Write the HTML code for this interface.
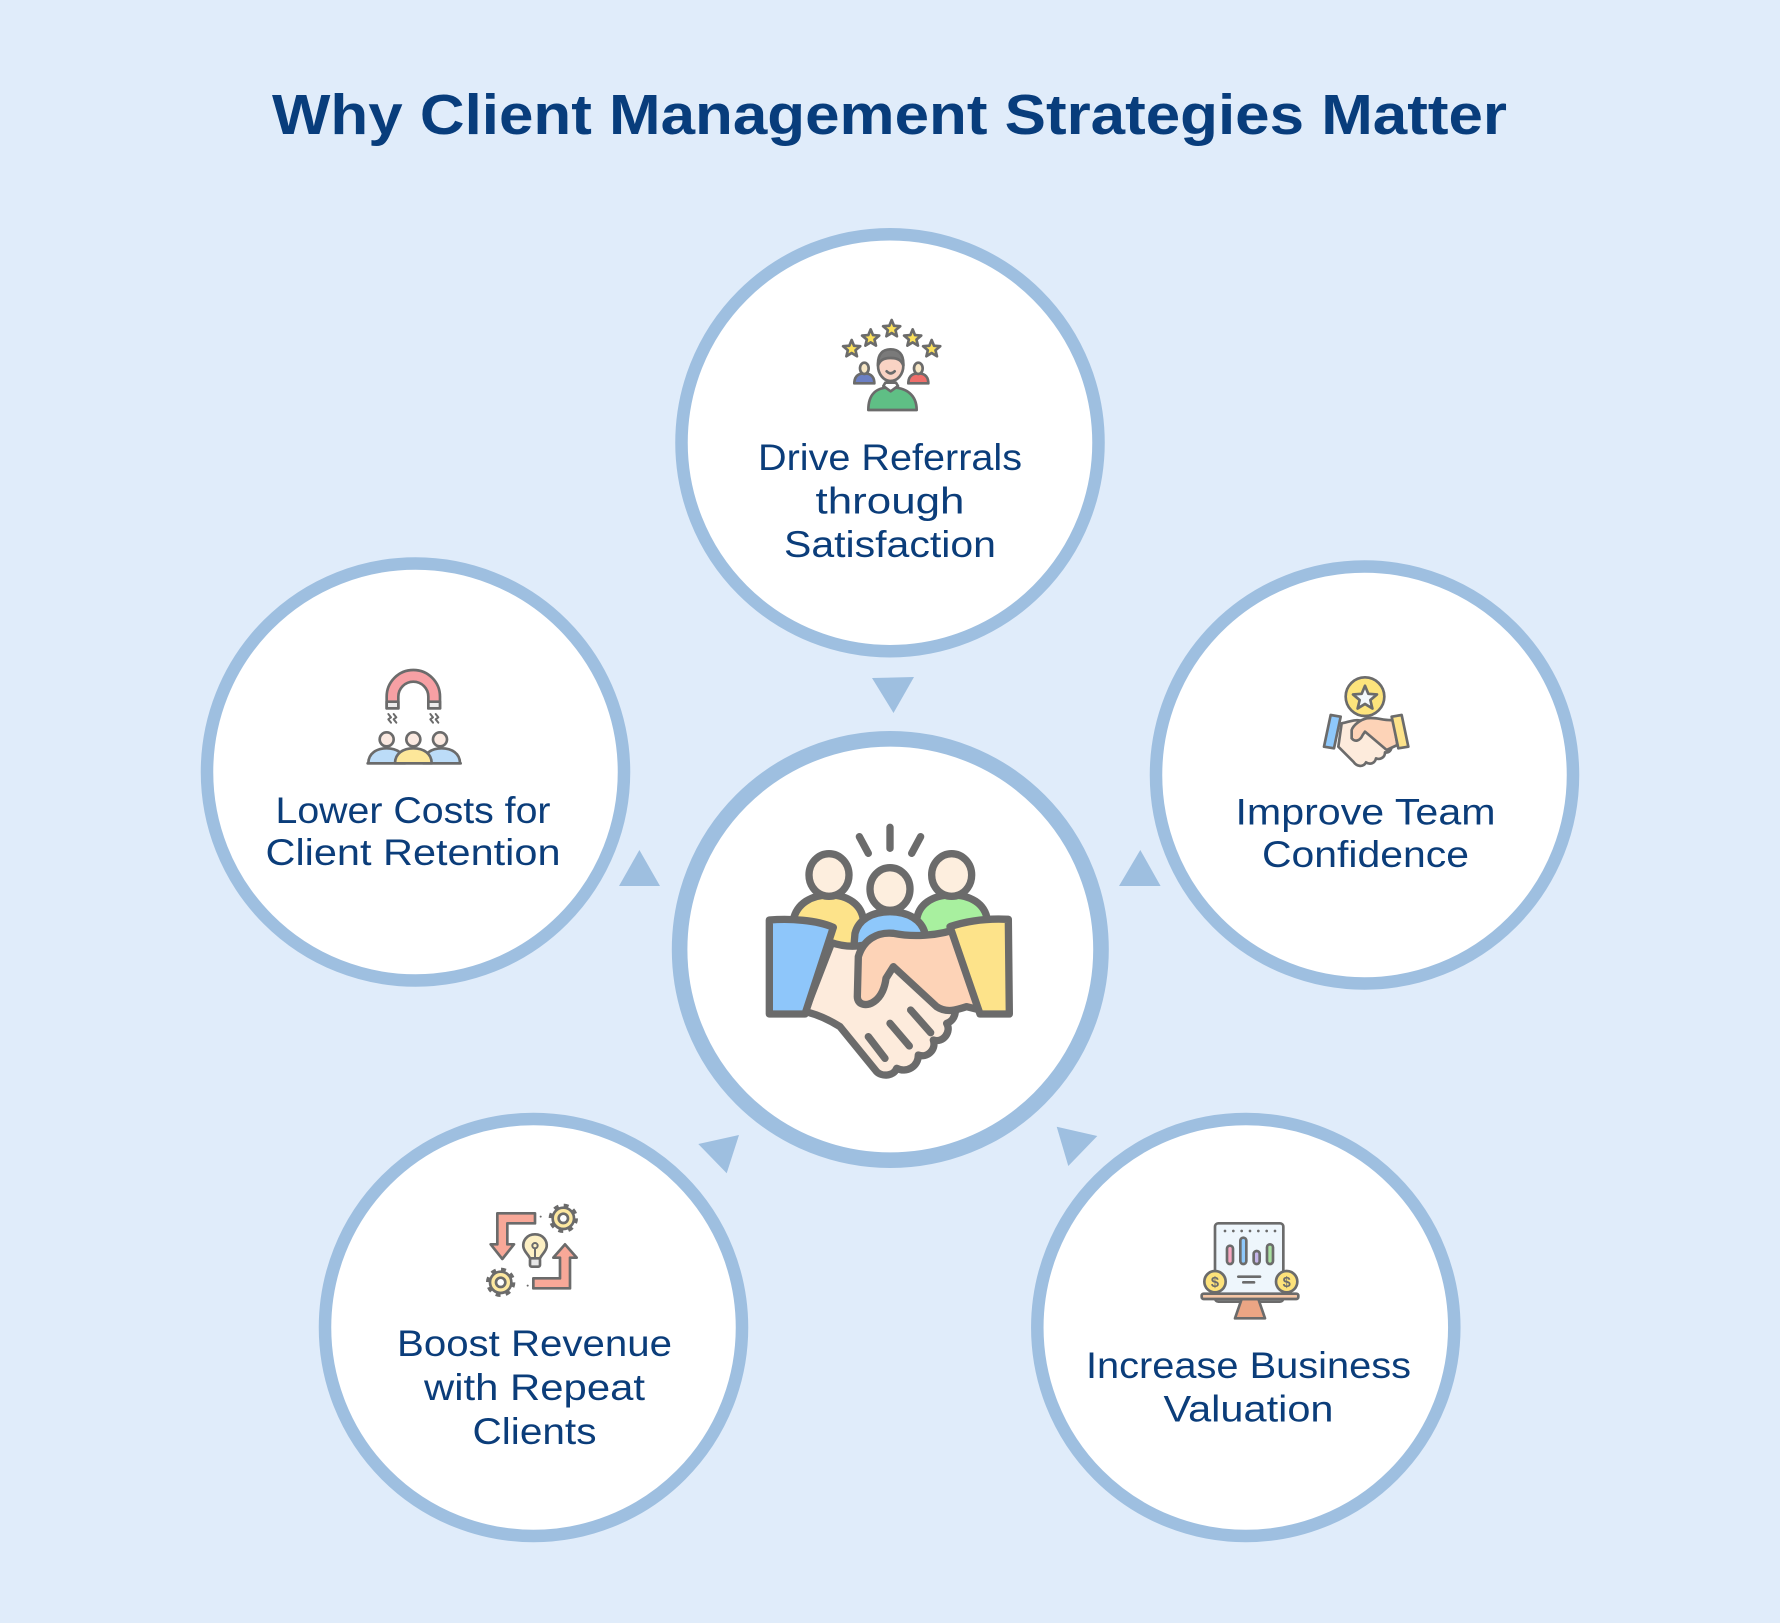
<!DOCTYPE html>
<html>
<head>
<meta charset="utf-8">
<style>
  html, body { margin: 0; padding: 0; background: #e0ecfa; }
  body { width: 1780px; height: 1623px; overflow: hidden; }
  svg { display: block; }
  .lbl { font-family: "Liberation Sans", "DejaVu Sans", sans-serif; font-size: 37px; fill: #0b3d7a; }
  .ttl { font-family: "Liberation Sans", "DejaVu Sans", sans-serif; font-size: 57px; font-weight: bold; fill: #083d7c; }
</style>
</head>
<body>
<svg width="1780" height="1623" viewBox="0 0 1780 1623" xmlns="http://www.w3.org/2000/svg">
  <defs>
    <polygon id="star" points="0,-27 7.05,-9.71 25.68,-8.34 11.41,3.71 15.87,21.84 0,12 -15.87,21.84 -11.41,3.71 -25.68,-8.34 -7.05,-9.71"/>
  </defs>
  <rect width="1780" height="1623" fill="#e0ecfa"/>

  <!-- Title -->
  <text class="ttl" x="889.5" y="134" text-anchor="middle" textLength="1235" lengthAdjust="spacingAndGlyphs">Why Client Management Strategies Matter</text>

  <!-- Circles -->
  <g fill="#ffffff" stroke="#9ebfe0">
    <circle cx="890" cy="442.7" r="208.5" stroke-width="12.5"/>
    <circle cx="415.5" cy="772" r="208.5" stroke-width="12.5"/>
    <circle cx="1364.5" cy="775" r="208.5" stroke-width="12.5"/>
    <circle cx="533.5" cy="1327.5" r="208.5" stroke-width="12.5"/>
    <circle cx="1245.8" cy="1327.5" r="208.5" stroke-width="12.5"/>
    <circle cx="890.3" cy="949.5" r="210.7" stroke-width="15.6"/>
  </g>

  <!-- Triangles -->
  <g fill="#9ebfe0">
    <polygon points="872,678 914,677 893.5,713"/>
    <polygon points="639.4,850 619,886 660,886"/>
    <polygon points="1140.3,850 1119,886 1160.6,886"/>
    <polygon points="698.3,1144 739,1135 726.7,1173.3"/>
    <polygon points="1056.7,1126.7 1097.3,1136 1068.3,1166"/>
  </g>

  <!-- Labels -->
  <text class="lbl" x="890" y="470" text-anchor="middle" textLength="264" lengthAdjust="spacingAndGlyphs">Drive Referrals</text>
  <text class="lbl" x="890" y="513.5" text-anchor="middle" textLength="149" lengthAdjust="spacingAndGlyphs">through</text>
  <text class="lbl" x="890" y="557" text-anchor="middle" textLength="212" lengthAdjust="spacingAndGlyphs">Satisfaction</text>

  <text class="lbl" x="413" y="823" text-anchor="middle" textLength="275" lengthAdjust="spacingAndGlyphs">Lower Costs for</text>
  <text class="lbl" x="413" y="865" text-anchor="middle" textLength="295" lengthAdjust="spacingAndGlyphs">Client Retention</text>

  <text class="lbl" x="1365.5" y="824.5" text-anchor="middle" textLength="260" lengthAdjust="spacingAndGlyphs">Improve Team</text>
  <text class="lbl" x="1365.5" y="867" text-anchor="middle" textLength="207" lengthAdjust="spacingAndGlyphs">Confidence</text>

  <text class="lbl" x="534.5" y="1356" text-anchor="middle" textLength="275" lengthAdjust="spacingAndGlyphs">Boost Revenue</text>
  <text class="lbl" x="534.5" y="1400" text-anchor="middle" textLength="221" lengthAdjust="spacingAndGlyphs">with Repeat</text>
  <text class="lbl" x="534.5" y="1444" text-anchor="middle" textLength="124" lengthAdjust="spacingAndGlyphs">Clients</text>

  <text class="lbl" x="1248.5" y="1378" text-anchor="middle" textLength="325" lengthAdjust="spacingAndGlyphs">Increase Business</text>
  <text class="lbl" x="1248.5" y="1421.5" text-anchor="middle" textLength="170" lengthAdjust="spacingAndGlyphs">Valuation</text>

  <!-- Center icon -->
  <g transform="translate(750,810) scale(0.33333)" stroke="#6b6b6b" stroke-width="22" stroke-linejoin="round" stroke-linecap="round">
    <line x1="420" y1="52" x2="420" y2="115" fill="none"/>
    <line x1="328" y1="80" x2="355" y2="130" fill="none"/>
    <line x1="512" y1="80" x2="485" y2="130" fill="none"/>
    <path d="M125,430 L130,330 C140,280 185,255 238,255 C295,255 335,285 340,330 L340,430 Z" fill="#fde38a"/>
    <path d="M500,430 L500,330 C505,285 545,255 605,255 C660,255 705,280 712,330 L712,430 Z" fill="#a8f09f"/>
    <ellipse cx="237" cy="195" rx="60" ry="64" fill="#fdeede"/>
    <ellipse cx="605" cy="195" rx="60" ry="64" fill="#fdeede"/>
    <path d="M310,430 L315,370 C325,330 365,305 420,305 C475,305 515,330 525,370 L525,430 Z" fill="#8ec8fb"/>
    <ellipse cx="420" cy="237" rx="60" ry="64" fill="#fdeede"/>
    <!-- light hand -->
    <path d="M245,398 C285,412 330,412 370,398 L470,400 L600,560 C625,590 620,630 590,640 C605,665 580,700 550,690 C560,720 530,745 505,735 C505,770 470,790 440,775 C430,800 395,800 380,785 L270,650 C230,625 200,612 165,605 Z" fill="#fdebdc"/>
    <line x1="355" y1="680" x2="405" y2="745"/>
    <line x1="420" y1="640" x2="478" y2="708"/>
    <line x1="482" y1="600" x2="542" y2="668"/>
    <!-- peach hand -->
    <path d="M640,350 C560,382 480,380 430,370 C380,365 340,390 325,440 L322,560 C322,585 350,590 372,575 C395,560 405,530 408,505 L430,470 L560,590 C590,610 620,600 650,590 L690,600 Z" fill="#fdd3b7"/>
    <!-- cuffs -->
    <path d="M58,330 C120,325 200,330 250,352 L165,612 L58,612 Z" fill="#8ec6fa"/>
    <path d="M600,350 C660,330 720,325 775,328 L778,612 L690,612 Z" fill="#fde38a"/>
  </g>

  <!-- Top icon: referrals -->
  <g transform="translate(820,300) scale(0.33333)" stroke="#6b6b6b" stroke-width="8" stroke-linejoin="round" stroke-linecap="round">
    <use href="#star" x="95" y="147" fill="#fbe05a"/>
    <use href="#star" x="152" y="115" fill="#fbe05a"/>
    <use href="#star" x="215" y="87" fill="#fbe05a"/>
    <use href="#star" x="278" y="115" fill="#fbe05a"/>
    <use href="#star" x="335" y="147" fill="#fbe05a"/>
    <path d="M103,250 C103,225 120,220 133,220 C146,220 163,225 163,250 Z" fill="#6b7fc4"/>
    <ellipse cx="133" cy="205" rx="13" ry="17" fill="#f7e6c4"/>
    <path d="M265,250 C265,225 282,220 295,220 C308,220 325,225 325,250 Z" fill="#ef6f6b"/>
    <ellipse cx="295" cy="205" rx="13" ry="17" fill="#f7e6c4"/>
    <path d="M145,330 C145,285 165,262 212,262 C259,262 290,285 290,330 Z" fill="#5fbf85"/>
    <path d="M190,258 L212,274 L234,258 L228,248 L196,248 Z" fill="#ffffff"/>
    <ellipse cx="212" cy="197" rx="38" ry="46" fill="#f9d3c4"/>
    <path d="M174,197 C172,160 190,148 212,148 C234,148 252,160 250,197 C245,182 235,174 212,174 C189,174 179,182 174,197 Z" fill="#7a7a7a"/>
    <path d="M200,214 Q212,226 224,214" fill="none"/>
  </g>

  <!-- Left icon: magnet & people -->
  <g transform="translate(355,660) scale(0.33333)" stroke="#6b6b6b" stroke-width="8" stroke-linejoin="round" stroke-linecap="round">
    <path d="M95,145 L95,110 A80,80 0 0 1 255,110 L255,145 L220,145 L220,110 A45,45 0 0 0 130,110 L130,145 Z" fill="#f7a0a4"/>
    <rect x="95" y="125" width="35" height="20" fill="#ececec"/>
    <rect x="220" y="125" width="35" height="20" fill="#ececec"/>
    <g fill="none" stroke-width="6">
      <polyline points="100,162 108,172 100,178 108,188"/>
      <polyline points="116,162 124,172 116,178 124,188"/>
      <polyline points="226,162 234,172 226,178 234,188"/>
      <polyline points="242,162 250,172 242,178 250,188"/>
    </g>
    <path d="M40,310 C40,280 65,265 95,265 C125,265 150,280 150,310 Z" fill="#bcdcf8"/>
    <path d="M205,310 C205,280 230,265 260,265 C290,265 315,280 315,310 Z" fill="#bcdcf8"/>
    <path d="M120,310 C120,280 145,265 175,265 C205,265 230,280 230,310 Z" fill="#fde79a"/>
    <circle cx="95" cy="238" r="21" fill="#fbe9e0"/>
    <circle cx="175" cy="238" r="21" fill="#fbe9e0"/>
    <circle cx="255" cy="238" r="21" fill="#fbe9e0"/>
    <line x1="38" y1="310" x2="317" y2="310"/>
  </g>

  <!-- Right icon: medal handshake -->
  <g transform="translate(1310,665) scale(0.33333)" stroke="#6b6b6b" stroke-width="8" stroke-linejoin="round" stroke-linecap="round">
    <circle cx="165" cy="95" r="58" fill="#fde47c"/>
    <use href="#star" transform="translate(165,100) scale(1.4)" fill="#f4f8fc" stroke-width="5.7"/>
    <path d="M95,175 C120,170 140,160 160,170 L240,235 C250,250 240,265 225,262 C225,278 210,285 198,280 C195,295 180,300 168,292 C160,308 140,305 130,290 L85,245 Z" fill="#fdebdc"/>
    <path d="M250,165 C220,168 200,155 170,160 C150,165 130,180 125,195 L125,220 C135,232 150,228 158,210 L165,200 L230,255 L262,240 Z" fill="#fdd3b7"/>
    <path d="M62,150 L92,155 L72,250 L42,245 Z" fill="#8ec8fb"/>
    <path d="M245,155 L275,150 L295,245 L265,250 Z" fill="#fde38a"/>
  </g>

  <!-- Bottom-left icon: arrows, gears, bulb -->
  <g transform="translate(480,1195) scale(0.33333)" stroke="#6b6b6b" stroke-width="8" stroke-linejoin="round" stroke-linecap="round">
    <path d="M165,55 L52,55 L52,148 L32,148 L67,192 L102,148 L82,148 L82,85 L165,85 Z" fill="#f8a898"/>
    <path d="M160,250 L240,250 L240,188 L220,188 L255,148 L290,188 L270,188 L270,280 L160,280 Z" fill="#f8a898"/>
    <circle cx="182" cy="65" r="3" fill="#6b6b6b" stroke="none"/>
    <circle cx="143" cy="272" r="3" fill="#6b6b6b" stroke="none"/>
    <!-- gears -->
    <circle cx="250" cy="70" r="37" fill="none" stroke-width="14" stroke-dasharray="14 15.06" stroke-linecap="butt"/>
    <circle cx="250" cy="70" r="32" fill="#fde8a0"/>
    <circle cx="250" cy="70" r="14" fill="#ffffff"/>
    <circle cx="62" cy="262" r="37" fill="none" stroke-width="14" stroke-dasharray="14 15.06" stroke-linecap="butt"/>
    <circle cx="62" cy="262" r="32" fill="#fde8a0"/>
    <circle cx="62" cy="262" r="14" fill="#ffffff"/>
    <!-- bulb -->
    <path d="M165,118 C140,118 128,138 130,155 C132,170 145,178 150,190 L180,190 C185,178 198,170 200,155 C202,138 190,118 165,118 Z" fill="#fdf0c4"/>
    <rect x="150" y="190" width="30" height="25" rx="5" fill="#e8e8e8"/>
    <circle cx="165" cy="152" r="8" fill="none" stroke-width="6"/>
    <line x1="165" y1="160" x2="165" y2="188" stroke-width="6"/>
  </g>

  <!-- Bottom-right icon: chart & scale -->
  <g transform="translate(1190,1215) scale(0.33333)" stroke="#6b6b6b" stroke-width="8" stroke-linejoin="round" stroke-linecap="round">
    <rect x="75" y="25" width="205" height="235" rx="10" fill="#eef6fc"/>
    <g fill="#6b6b6b" stroke="none">
      <circle cx="105" cy="48" r="4"/><circle cx="130" cy="48" r="4"/><circle cx="155" cy="48" r="4"/>
      <circle cx="180" cy="48" r="4"/><circle cx="205" cy="48" r="4"/><circle cx="230" cy="48" r="4"/><circle cx="255" cy="48" r="4"/>
    </g>
    <rect x="111" y="92" width="18" height="55" rx="9" fill="#f7a6c0"/>
    <rect x="151" y="68" width="18" height="79" rx="9" fill="#8ec8fb"/>
    <rect x="191" y="108" width="18" height="39" rx="9" fill="#c5b5ea"/>
    <rect x="231" y="88" width="18" height="59" rx="9" fill="#a8e0a0"/>
    <line x1="145" y1="185" x2="210" y2="185"/>
    <line x1="160" y1="202" x2="192" y2="202"/>
    <circle cx="75" cy="200" r="32" fill="#fde27a"/>
    <circle cx="290" cy="200" r="32" fill="#fde27a"/>
    <text x="75" y="216" text-anchor="middle" font-family="Liberation Sans, sans-serif" font-size="44" font-weight="bold" fill="#6b6b6b" stroke="none">$</text>
    <text x="290" y="216" text-anchor="middle" font-family="Liberation Sans, sans-serif" font-size="44" font-weight="bold" fill="#6b6b6b" stroke="none">$</text>
    <path d="M155,252 L205,252 L225,310 L135,310 Z" fill="#eba584"/>
    <rect x="35" y="236" width="290" height="16" rx="6" fill="#f5c6a5"/>
  </g>
</svg>
</body>
</html>
